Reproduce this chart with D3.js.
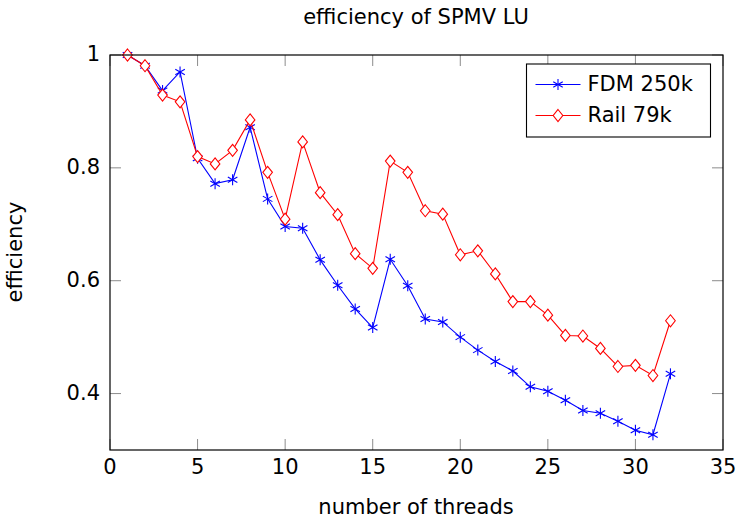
<!DOCTYPE html>
<html>
<head>
<meta charset="utf-8">
<script src="https://cdn.jsdelivr.net/npm/d3@7"></script>
<style>
  body { margin: 0; background: #fff; }
  svg text { font-family: "DejaVu Sans", sans-serif; fill: #000; }
</style>
</head>
<body>
<script>
// thread counts and measured efficiency
const threads = d3.range(1, 33);
const fdm250k = [1.0, 0.981, 0.937, 0.970, 0.817, 0.772, 0.779, 0.872, 0.745, 0.696,
  0.693, 0.637, 0.592, 0.550, 0.517, 0.638, 0.591, 0.532, 0.527, 0.500,
  0.477, 0.457, 0.440, 0.412, 0.404, 0.388, 0.370, 0.365, 0.351, 0.335,
  0.327, 0.435];
const rail79k = [1.0, 0.981, 0.929, 0.917, 0.820, 0.807, 0.831, 0.885, 0.792, 0.709,
  0.846, 0.756, 0.717, 0.648, 0.622, 0.812, 0.792, 0.724, 0.718, 0.646,
  0.653, 0.612, 0.563, 0.563, 0.539, 0.503, 0.502, 0.480, 0.448, 0.450,
  0.432, 0.529];
const xTicks = [0, 5, 10, 15, 20, 25, 30, 35];
const yTicks = [0.4, 0.6, 0.8, 1];
const seriesNames = ["FDM 250k", "Rail 79k"];

const width = 737;
const height = 518;
const margin = { top: 55, right: 14, bottom: 68, left: 110 };
const fs = 21;

const svg = d3.select("body").append("svg").attr("width", width).attr("height", height);

const xScale = d3.scaleLinear().domain([0, 35]).range([margin.left, width - margin.right]);
const yScale = d3.scaleLinear().domain([0.3, 1]).range([height - margin.bottom, margin.top]);

const tickLen = 11;
const tickColor = "#8c8c8c";

// ticks on all four sides, pointing inward
const g = svg.append("g");
xTicks.forEach(t => {
  g.append("line").attr("x1", xScale(t)).attr("x2", xScale(t))
    .attr("y1", yScale(0.3)).attr("y2", yScale(0.3) - tickLen)
    .attr("stroke", tickColor);
  g.append("line").attr("x1", xScale(t)).attr("x2", xScale(t))
    .attr("y1", yScale(1)).attr("y2", yScale(1) + tickLen)
    .attr("stroke", tickColor);
  g.append("text").attr("x", xScale(t)).attr("y", yScale(0.3) + 18)
    .attr("text-anchor", "middle").attr("dominant-baseline", "middle")
    .attr("font-size", fs).text(t);
});
yTicks.forEach(t => {
  g.append("line").attr("x1", xScale(0)).attr("x2", xScale(0) + tickLen)
    .attr("y1", yScale(t)).attr("y2", yScale(t))
    .attr("stroke", tickColor);
  g.append("line").attr("x1", xScale(35)).attr("x2", xScale(35) - tickLen)
    .attr("y1", yScale(t)).attr("y2", yScale(t))
    .attr("stroke", tickColor);
  g.append("text").attr("x", xScale(0) - 10).attr("y", yScale(t))
    .attr("text-anchor", "end").attr("dominant-baseline", "middle")
    .attr("font-size", fs).text(t);
});

const line = d3.line().x((d, i) => xScale(threads[i])).y(d => yScale(d));

function asterisk(sel, r) {
  [90, 30, 150].forEach(a => {
    const rad = a * Math.PI / 180;
    sel.append("line")
      .attr("x1", -r * Math.cos(rad)).attr("y1", -r * Math.sin(rad))
      .attr("x2", r * Math.cos(rad)).attr("y2", r * Math.sin(rad));
  });
}
function diamond(sel, w, h) {
  sel.append("path").attr("d", `M0,${-h}L${w},0L0,${h}L${-w},0Z`).attr("fill", "#fff");
}

// FDM
svg.append("path").datum(fdm250k).attr("fill", "none").attr("stroke", "#0000ff")
  .attr("stroke-width", 1.1).attr("d", line);
svg.append("g").selectAll("g").data(fdm250k).join("g")
  .attr("transform", (d, i) => `translate(${xScale(threads[i])},${yScale(d)})`)
  .attr("stroke", "#0000ff").attr("stroke-width", 1.1)
  .each(function() { asterisk(d3.select(this), 5.5); });

// Rail
svg.append("path").datum(rail79k).attr("fill", "none").attr("stroke", "#ff0000")
  .attr("stroke-width", 1.1).attr("d", line);
svg.append("g").selectAll("g").data(rail79k).join("g")
  .attr("transform", (d, i) => `translate(${xScale(threads[i])},${yScale(d)})`)
  .attr("stroke", "#ff0000").attr("stroke-width", 1.1)
  .each(function() { diamond(d3.select(this), 4.8, 6); });

// frame
svg.append("rect").attr("x", xScale(0)).attr("y", yScale(1))
  .attr("width", xScale(35) - xScale(0)).attr("height", yScale(0.3) - yScale(1))
  .attr("fill", "none").attr("stroke", "#000").attr("stroke-width", 1.2);

// legend
const lg = svg.append("g").attr("transform", "translate(526.5,64)");
lg.append("rect").attr("width", 184).attr("height", 73)
  .attr("fill", "#fff").attr("stroke", "#000").attr("stroke-width", 1.1);
const colors = ["#0000ff", "#ff0000"];
seriesNames.forEach((name, i) => {
  const y = 20.5 + i * 31;
  lg.append("line").attr("x1", 9).attr("x2", 54).attr("y1", y).attr("y2", y)
    .attr("stroke", colors[i]).attr("stroke-width", 1.1);
  const m = lg.append("g").attr("transform", `translate(31.5,${y})`)
    .attr("stroke", colors[i]).attr("stroke-width", 1.1);
  if (i === 0) asterisk(m, 5.5); else diamond(m, 4.8, 6);
  lg.append("text").attr("x", 61).attr("y", y).attr("dominant-baseline", "middle")
    .attr("font-size", fs).text(name);
});

// titles
svg.append("text").attr("x", 416).attr("y", 18).attr("text-anchor", "middle")
  .attr("dominant-baseline", "middle").attr("font-size", fs).text("efficiency of SPMV LU");
svg.append("text").attr("x", 416).attr("y", 508).attr("text-anchor", "middle")
  .attr("dominant-baseline", "middle").attr("font-size", fs).text("number of threads");
svg.append("text").attr("transform", "translate(16,252) rotate(-90)")
  .attr("text-anchor", "middle").attr("dominant-baseline", "middle")
  .attr("font-size", fs).text("efficiency");
</script>
</body>
</html>
